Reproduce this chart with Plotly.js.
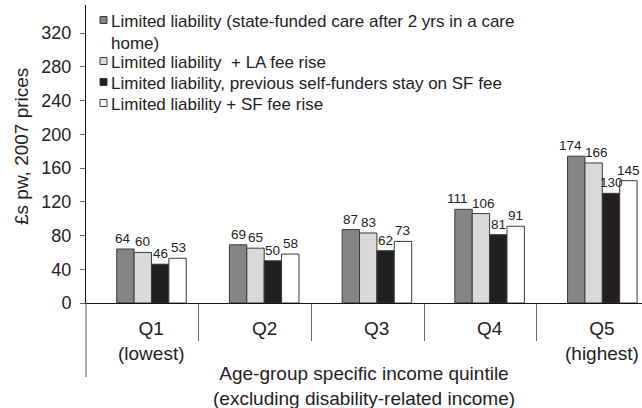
<!DOCTYPE html>
<html>
<head>
<meta charset="utf-8">
<script src="https://cdn.plot.ly/plotly-3.0.1.min.js"></script>
<style>html,body{margin:0;padding:0;background:#fff;}#chart{width:642px;height:408px;}</style>
</head>
<body>
<div id="chart"></div>
<script>
// Data
var quintilePositions = [0, 1, 2, 3, 4];
var quintileLabels = ["Q1<br>(lowest)", "Q2", "Q3", "Q4", "Q5<br>(highest)"];
var seriesNames = [
  "Limited liability (state-funded care after 2 yrs in a care<br>home)",
  "Limited liability  + LA fee rise",
  "Limited liability, previous self-funders stay on SF fee",
  "Limited liability + SF fee rise"
];
var limitedLiability = [64, 69, 87, 111, 174];
var laFeeRise = [60, 65, 83, 106, 166];
var selfFundersStay = [46, 50, 62, 81, 130];
var sfFeeRise = [53, 58, 73, 91, 145];
var yTicks = [0, 40, 80, 120, 160, 200, 240, 280, 320];
var dividerPositions = [0.42, 1.42, 2.42, 3.42];

var seriesValues = [limitedLiability, laFeeRise, selfFundersStay, sfFeeRise];
var fills = ["#858585", "#d9d9d9", "#231f20", "#ffffff"];
// horizontal nudges (px) applied to value labels so crowded ones don't collide (style only)
var labelNudge = [
  [-2, 0, 0, -6, -5.5],
  [0, 0, 0, 2.5, 2.5],
  [0, 0, 0, 0, 0],
  [1, 0, 0, 0, 0]
];
var FONT = "Liberation Sans, Arial, Helvetica, sans-serif";
var BARGAP = 0.383;

// plot area in pixels (layout only)
var PL = 86, PR = 642, PT = 5, PB = 303;
function px(x) { return (x - PL) / (PR - PL); }
function py(y) { return (PB - y) / (PB - PT); }

var traces = seriesValues.map(function (vals, i) {
  return {
    type: "bar",
    name: seriesNames[i],
    x: quintilePositions,
    y: vals,
    marker: {color: fills[i], line: {color: "#3a3a3a", width: 1}},
    hoverinfo: "none",
    showlegend: false
  };
});

var annotations = [];
// value labels above each bar, placed through the axes
var barW = (1 - BARGAP) / seriesValues.length;
seriesValues.forEach(function (vals, i) {
  vals.forEach(function (v, j) {
    annotations.push({
      x: quintilePositions[j] + (i - (seriesValues.length - 1) / 2) * barW,
      xref: "x", y: v, yref: "y",
      xanchor: "center", yanchor: "bottom", yshift: 2,
      xshift: labelNudge[i][j],
      text: String(v), showarrow: false, borderpad: 0,
      font: {family: FONT, size: 13.5, color: "#222"}
    });
  });
});

quintilePositions.forEach(function (p, i) {
  annotations.push({
    x: p, xref: "x", y: 0, yref: "paper",
    yanchor: "top", yshift: -13,
    text: quintileLabels[i], showarrow: false,
    font: {family: FONT, size: 19, color: "#222"}
  });
});
annotations.push({
  x: 0.5, xref: "paper", y: py(386), yref: "paper",
  xanchor: "center", yanchor: "middle",
  text: "Age-group specific income quintile<br>(excluding disability-related income)",
  showarrow: false, font: {family: FONT, size: 19, color: "#222"}
});
annotations.push({
  x: px(21), xref: "paper", y: py(147), yref: "paper",
  xanchor: "center", yanchor: "middle", textangle: -90,
  text: "£s pw, 2007 prices",
  showarrow: false, font: {family: FONT, size: 19, color: "#222"}
});

// custom legend (keys + labels)
var legendRows = [20, 61, 82, 103];
var legendTop = [10, 51, 72, 93];
var shapes = [{
  type: "line", xref: "paper", yref: "paper",
  x0: 0, x1: 0, y0: 0, y1: py(377),
  line: {color: "#555", width: 1}
}];
seriesNames.forEach(function (name, i) {
  shapes.push({
    type: "rect", xref: "paper", yref: "paper",
    x0: px(100), x1: px(107), y0: py(legendRows[i] - 3.5), y1: py(legendRows[i] + 3.5),
    fillcolor: fills[i], line: {color: "#3a3a3a", width: 1}
  });
  annotations.push({
    x: px(109), xref: "paper", y: py(legendTop[i]), yref: "paper",
    xanchor: "left", yanchor: "top", align: "left",
    text: name, showarrow: false,
    font: {family: FONT, size: 17, color: "#222"}
  });
});

var layout = {
  width: 642, height: 408,
  margin: {l: 86, r: 0, t: 5, b: 105, pad: 0},
  paper_bgcolor: "#fff", plot_bgcolor: "#fff",
  barmode: "group", bargap: BARGAP, bargroupgap: 0,
  font: {family: FONT, color: "#222"},
  xaxis: {
    range: [-0.581, 4.352], showgrid: false, zeroline: false,
    showline: true, linecolor: "#111", linewidth: 1,
    tickvals: dividerPositions, ticks: "outside", ticklen: 37,
    tickcolor: "#666", tickwidth: 1, showticklabels: false, fixedrange: true
  },
  yaxis: {
    range: [0, 353.2], tickvals: yTicks, ticks: "outside", ticklen: 5,
    tickcolor: "#666", showline: true, linecolor: "#111", linewidth: 1,
    showgrid: false, zeroline: false, ticklabelstandoff: 5,
    tickfont: {family: FONT, size: 18, color: "#222"}, fixedrange: true
  },
  showlegend: false,
  shapes: shapes,
  annotations: annotations
};

Plotly.newPlot("chart", traces, layout, {staticPlot: true, displayModeBar: false});
</script>
</body>
</html>
